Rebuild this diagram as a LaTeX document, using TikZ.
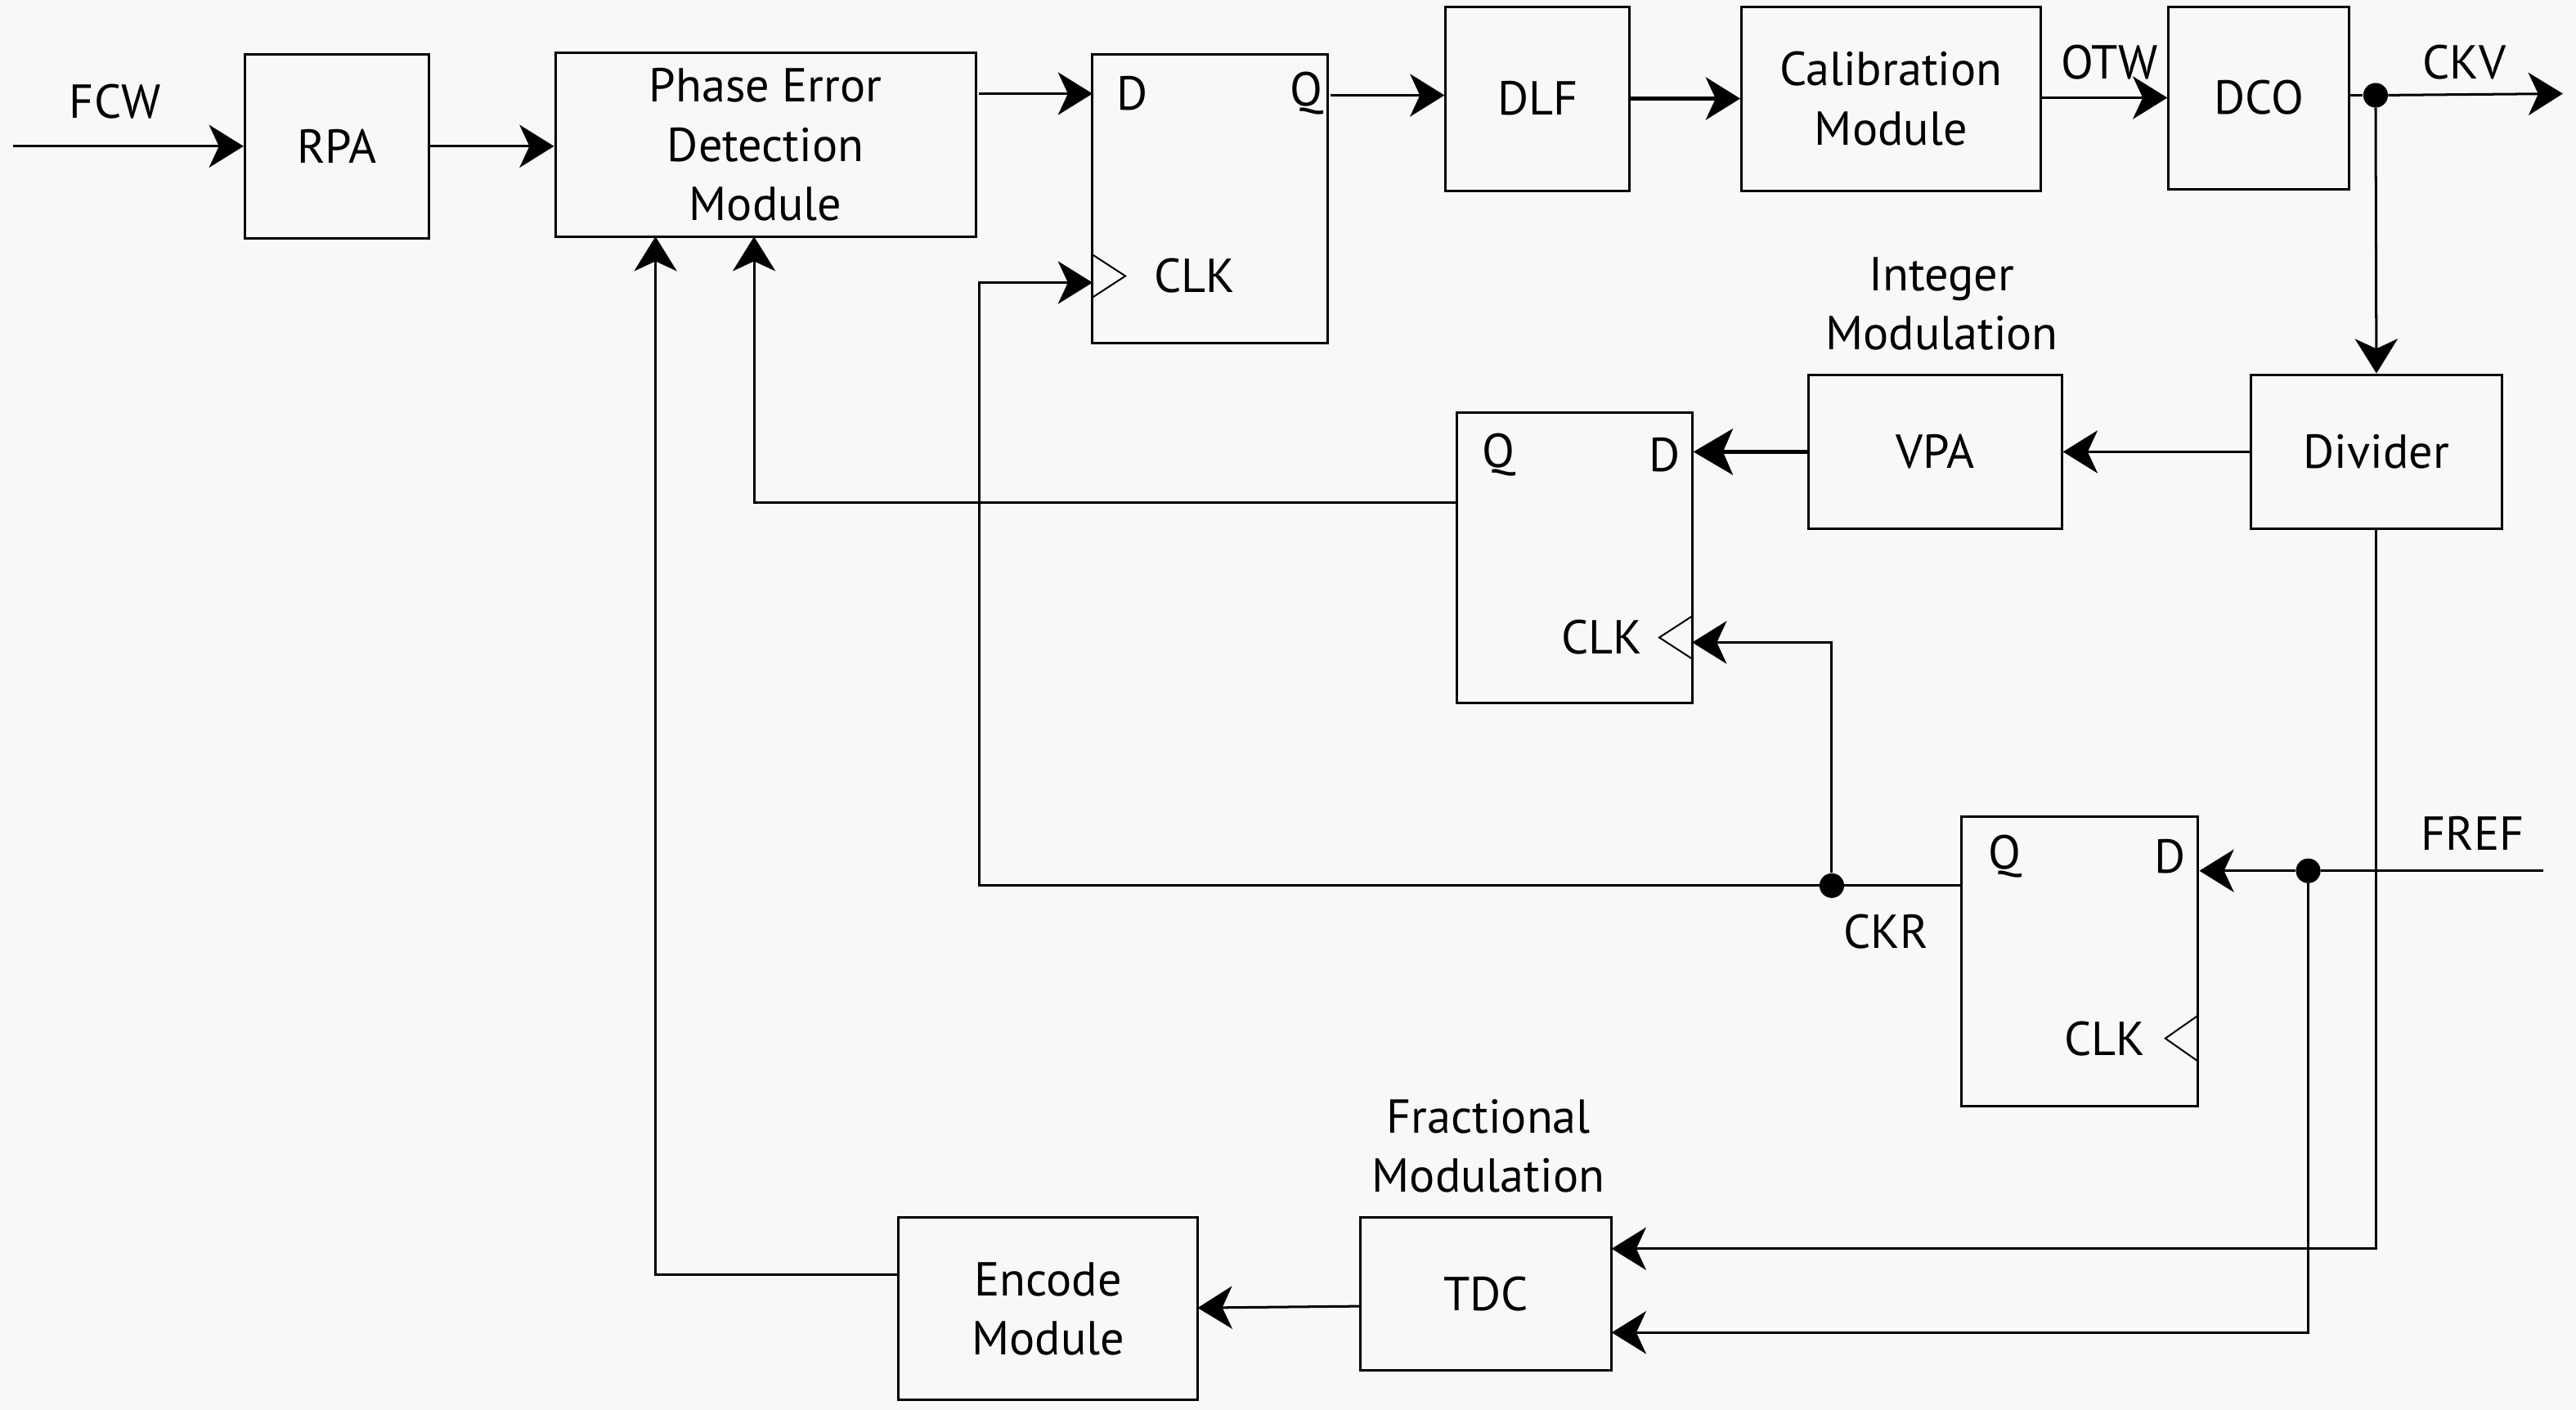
\documentclass[tikz,border=0pt]{standalone}
\usepackage{fontspec}
\setmainfont{PT Sans}
\usetikzlibrary{arrows.meta,calc}
\definecolor{bgcol}{HTML}{F8F8F8}
\begin{document}
\begin{tikzpicture}[x=1pt,y=-1pt,
  every node/.style={font=\fontsize{29}{36}\selectfont},
  blk/.style={draw, line width=1.5pt, inner sep=0pt, align=center},
  lbl/.style={inner sep=0pt, align=center},
  wire/.style={line width=1.5pt},
  arr/.style={wire, -{Stealth[length=21pt,width=26pt,inset=6pt]}},
  thickarr/.style={line width=2.8pt, -{Stealth[length=24pt,width=28pt,inset=6pt]}},
  clktri/.style={line width=1pt},
  dot/.style={circle, fill, inner sep=0pt, minimum size=15pt}]

\fill[bgcol] (0,0) rectangle (1568,858);
\useasboundingbox (0,0) rectangle (1568,858);

% blocks
\node[blk, minimum width=112pt, minimum height=112pt] (rpa) at (205,89) {RPA};
\node[blk, minimum width=256pt, minimum height=112pt] (ped) at (466,88) {Phase Error\\Detection\\Module};
\node[blk, minimum width=143pt, minimum height=176pt] (ff1) at (736.5,121) {};
\node[blk, minimum width=112pt, minimum height=112pt] (dlf) at (936,60) {DLF};
\node[blk, minimum width=182pt, minimum height=112pt] (cal) at (1151,60) {Calibration\\Module};
\node[blk, minimum width=110pt, minimum height=111pt] (dco) at (1375,59.5) {DCO};
\node[blk, minimum width=153pt, minimum height=94pt] (div) at (1446.5,275) {Divider};
\node[blk, minimum width=154pt, minimum height=94pt] (vpa) at (1178,275) {VPA};
\node[blk, minimum width=143pt, minimum height=177pt] (ff2) at (958.5,339.5) {};
\node[blk, minimum width=144pt, minimum height=176pt] (ff3) at (1266,585) {};
\node[blk, minimum width=153pt, minimum height=93pt] (tdc) at (904.5,787.5) {TDC};
\node[blk, minimum width=182pt, minimum height=111pt] (enc) at (638,796.5) {Encode\\Module};

% flip-flop pin labels
\node[lbl] (ff1d) at (689,57) {D};
\node[lbl] (ff1q) at (795,57) {Q};
\node[lbl] (ff1c) at (727,168) {CLK};
\node[lbl] (ff2q) at (912,277) {Q};
\node[lbl] (ff2d) at (1013,277) {D};
\node[lbl] (ff2c) at (975,388) {CLK};
\node[lbl] (ff3q) at (1220,521) {Q};
\node[lbl] (ff3d) at (1321,521) {D};
\node[lbl] (ff3c) at (1281,632) {CLK};

% clock triangles
\draw[clktri] (665,155) -- (685,168) -- (665,181);
\draw[clktri] (1030,375) -- (1010,388) -- (1030,401);
\draw[clktri] (1338,618) -- (1318,632) -- (1338,646);

% free labels
\node[lbl] (fcw) at (70,62) {FCW};
\node[lbl] (otw) at (1284,38) {OTW};
\node[lbl] (ckv) at (1500,38) {CKV};
\node[lbl] (ckr) at (1148,567) {CKR};
\node[lbl] (fref) at (1505,507) {FREF};
\node[lbl] (intmod) at (1182,185) {Integer\\Modulation};
\node[lbl] (fracmod) at (906,697.5) {Fractional\\Modulation};

% junction dots
\node[dot] (ckvdot) at (1446,58) {};
\node[dot] (ckrdot) at (1115,539) {};
\node[dot] (frefdot) at (1405,530) {};

% helper coordinates
\coordinate (fcwin) at (8,89);
\coordinate (ckvout) at (1560,57);
\coordinate (frefin) at (1548,530);
\coordinate (pedout) at (596,57);
\coordinate (ff1din) at (665,57);
\coordinate (ff1qout) at (810,58);
\coordinate (ff1clkin) at (665,172);
\coordinate (ckrbend) at (596,539);
\coordinate (ff2clkin) at (1030,391);
\coordinate (ff2qout) at (887,306);
\coordinate (pedin1) at (459,144);
\coordinate (pedin2) at (399,144);
\coordinate (encout) at (547,776);
\coordinate (tdcin1) at (981,760);
\coordinate (tdcin2) at (981,811);
\coordinate (tdcout) at (828,795);
\coordinate (encin) at (729,796);

% connectors
\draw[arr] (fcwin) -- (rpa.west);
\draw[arr] (rpa.east) -- (ped.west |- rpa.east);
\draw[arr] (pedout) -- (ff1din);
\draw[arr] (ff1qout) -- (dlf.west |- ff1qout);
\draw[arr, line width=2.2pt] (dlf.east) -- (cal.west);
\draw[arr] (cal.east |- dco.west) -- (dco.west);
\draw[wire] (dco.east |- ckvdot) -- (ckvdot);
\draw[arr] (ckvdot) -- (ckvout);
\draw[arr] (ckvdot) -- (div.north);
\draw[arr] (div.west) -- (vpa.east);
\draw[thickarr] (vpa.west) -- (ff2.east |- vpa.west);
\draw[arr] (ff2qout) -| (pedin1);
\draw[wire] (ff3.west |- ckrdot) -- (ckrdot);
\draw[arr] (ckrdot) -- (ckrbend) |- (ff1clkin);
\draw[arr] (ckrdot) |- (ff2clkin);
\draw[wire] (frefin) -- (frefdot);
\draw[arr] (frefdot) -- (ff3.east |- frefdot);
\draw[arr] (frefdot) |- (tdcin2);
\draw[arr] (div.south) |- (tdcin1);
\draw[arr] (tdcout) -- (encin);
\draw[arr] (encout) -| (pedin2);
\end{tikzpicture}
\end{document}
